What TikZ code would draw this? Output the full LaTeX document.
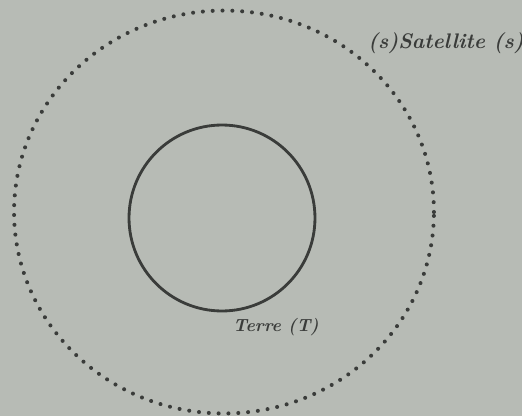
\documentclass[tikz,border=0pt]{standalone}
\usepackage{tikz}
\usetikzlibrary{positioning, shapes.geometric}
\definecolor{paperGray}{HTML}{B7BBB5}
\definecolor{inkDark}{HTML}{3A3C3A}
\tikzset{
  earth/.style={circle, draw=inkDark, line width=1.6pt, inner sep=0pt,
                minimum size=3.72cm},
  orbit/.style={ellipse, draw=inkDark, line width=2.3pt, inner sep=0pt,
                dash pattern=on 0pt off 5.6pt, line cap=round,
                minimum width=8.4cm, minimum height=8.06cm},
  lbl/.style={text=inkDark, font=\bfseries\itshape\large, inner sep=1pt},
}
\begin{document}
\begin{tikzpicture}[x=0.02cm, y=-0.02cm]
    \fill[paperGray] (0,0) rectangle (522,416);
    \clip (0,0) rectangle (522,416);
    \node[orbit] (s) at (224,212) {};
    \node[earth] (t) at (222,218) {};
    \node[lbl] (ls) at (446,43) {(s)Satellite (s)};
    \node[lbl, font=\bfseries\itshape\normalsize] (lt) at (276,327) {Terre (T)};
  \end{tikzpicture}
\end{document}
